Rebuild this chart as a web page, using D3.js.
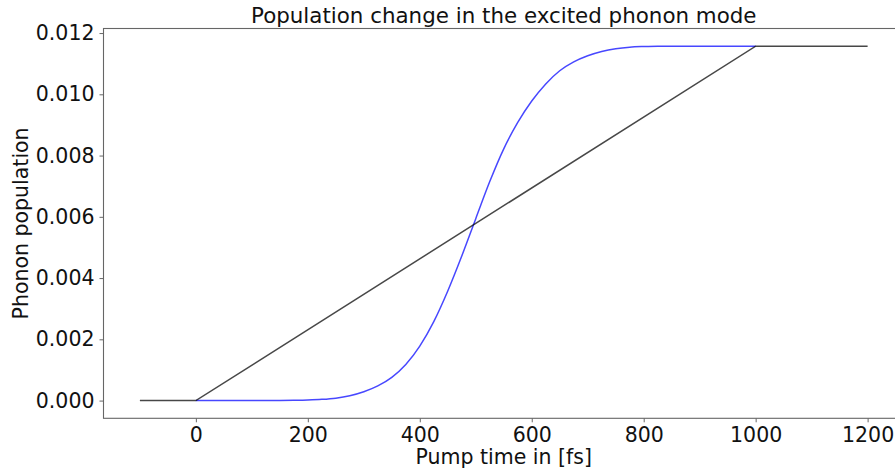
<!DOCTYPE html>
<html>
<head>
<meta charset="utf-8">
<script src="https://cdn.jsdelivr.net/npm/d3@7"></script>
<style>
  html, body { margin: 0; padding: 0; background: #fff; }
  svg { display: block; }
  text { font-family: "DejaVu Sans", sans-serif; fill: #111; }
</style>
</head>
<body>
<svg id="chart" width="895" height="468"></svg>
<script>
// Pump time samples (fs) for the excited-mode population curve
const pumpTime = [0, 25, 50, 75, 100, 125, 150, 175, 200, 225, 250, 275, 300, 325, 350, 375,
  400, 425, 450, 475, 500, 525, 550, 575, 600, 625, 650, 675, 700, 725, 750, 775, 800, 825,
  850, 875, 900, 925, 950, 975, 1000];
// Phonon population in the excited mode
const population = [0, 0, 0, 0, 0, 0.000002, 0.000004, 0.00001, 0.00002, 0.00004, 0.00008,
  0.00016, 0.00029, 0.00048, 0.00076, 0.00118, 0.00178, 0.00258, 0.00358, 0.00472, 0.00594,
  0.00715, 0.00822, 0.00908, 0.00978, 0.01034, 0.01077, 0.01106, 0.01126, 0.0114, 0.01149,
  0.01154, 0.01156, 0.01157, 0.01157, 0.01157, 0.01157, 0.01157, 0.01157, 0.01157, 0.01157];
// Linear reference ramp
const rampTime = [-100, 0, 1000, 1200];
const rampPopulation = [0, 0, 0.01157, 0.01157];
// Axis ticks
const xTicks = [0, 200, 400, 600, 800, 1000, 1200];
const yTicks = [0, 0.002, 0.004, 0.006, 0.008, 0.010, 0.012];

const titleText = "Population change in the excited phonon mode";
const xLabel = "Pump time in [fs]";
const yLabel = "Phonon population";

const svg = d3.select("#chart");
const plotLeft = 103.5, plotRight = 904, plotTop = 28.5, plotBottom = 418.3;
const fontSize = 20.5;

const x = d3.scaleLinear().domain([-165, 1265]).range([plotLeft, plotRight]);
const y = d3.scaleLinear().domain([-0.0005785, 0.0121485]).range([plotBottom, plotTop]);

// Curves
const smooth = d3.line().curve(d3.curveMonotoneX).x(d => x(d[0])).y(d => y(d[1]));
const straight = d3.line().x(d => x(d[0])).y(d => y(d[1]));
svg.append("path")
  .attr("d", smooth(pumpTime.map((t, i) => [t, population[i]])))
  .attr("fill", "none")
  .attr("stroke", "#0000ff")
  .attr("stroke-opacity", 0.72)
  .attr("stroke-width", 1.5);
svg.append("path")
  .attr("d", straight(rampTime.map((t, i) => [t, rampPopulation[i]])))
  .attr("fill", "none")
  .attr("stroke", "#000")
  .attr("stroke-opacity", 0.72)
  .attr("stroke-width", 1.5);

// Axes
const xAxis = d3.axisBottom(x).tickValues(xTicks).tickFormat(d3.format("d"))
  .tickSizeInner(4).tickSizeOuter(0).tickPadding(5);
const yAxis = d3.axisLeft(y).tickValues(yTicks).tickFormat(d3.format(".3f"))
  .tickSizeInner(4).tickSizeOuter(0).tickPadding(5);

const gx = svg.append("g").attr("transform", `translate(0,${plotBottom})`).call(xAxis);
const gy = svg.append("g").attr("transform", `translate(${plotLeft},0)`).call(yAxis);
[gx, gy].forEach(g => {
  g.select(".domain").remove();
  g.selectAll(".tick line").attr("stroke", "#666").attr("stroke-width", 1);
  g.selectAll(".tick text").attr("font-size", fontSize)
    .attr("font-family", "DejaVu Sans").attr("fill", "#111");
});

// Frame
svg.append("rect")
  .attr("x", plotLeft).attr("y", plotTop)
  .attr("width", plotRight - plotLeft).attr("height", plotBottom - plotTop)
  .attr("fill", "none").attr("stroke", "#666").attr("stroke-width", 1.1);

// Titles
svg.append("text")
  .attr("x", (plotLeft + plotRight) / 2).attr("y", 23)
  .attr("text-anchor", "middle").attr("font-size", 21.4)
  .text(titleText);
svg.append("text")
  .attr("x", (plotLeft + plotRight) / 2).attr("y", 464)
  .attr("text-anchor", "middle").attr("font-size", fontSize)
  .text(xLabel);
svg.append("text")
  .attr("transform", `translate(28,${(plotTop + plotBottom) / 2}) rotate(-90)`)
  .attr("text-anchor", "middle").attr("font-size", fontSize)
  .text(yLabel);
</script>
</body>
</html>
